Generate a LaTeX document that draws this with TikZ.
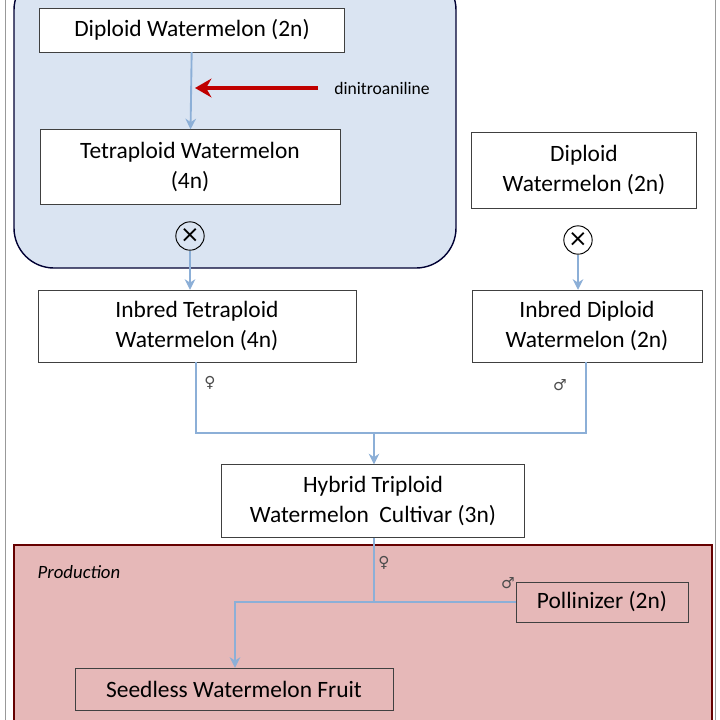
\documentclass[tikz,border=0pt]{standalone}
\usepackage{fontspec}
\setmainfont{Carlito}
\newfontfamily\symfont{DejaVu Sans}
\usetikzlibrary{arrows.meta,positioning}
\definecolor{flowblue}{RGB}{140,175,215}
\definecolor{regionblue}{RGB}{218,228,242}
\definecolor{regionred}{RGB}{230,184,184}
\definecolor{arrowred}{RGB}{192,0,0}
\tikzset{
  stage/.style={draw=black!75,fill=white,align=center,inner sep=0pt,font=\fontsize{20}{26}\selectfont},
  flow/.style={draw=flowblue,line width=1.6pt},
  flowarrow/.style={flow,-{Stealth[length=9pt,width=9pt]}},
  cross/.style={circle,draw,line width=0.8pt,inner sep=0pt,minimum size=0.85cm,font=\symfont\fontsize{20}{20}\selectfont},
  sex/.style={font=\symfont\fontsize{13}{13}\selectfont,text=black!70}
}
\begin{document}
\begin{tikzpicture}[x=0.03cm,y=-0.03cm]
  \useasboundingbox (0,0) rectangle (720,720);
  \draw[black!40] (5,-5) rectangle (715,725);
  % breeding region
  \draw[fill=regionblue,draw=black!80!blue,line width=1.2pt,rounded corners=1.2cm] (14,-30) rectangle (456,268);
  % production region
  \draw[fill=regionred,draw=black!60!red,line width=1pt] (14,545) rectangle (712,730);
  \node[font=\itshape\fontsize{16}{16}\selectfont] (prod) at (79,572) {Production};

  \node[stage,minimum width=9.15cm,minimum height=1.32cm] (dip) at (192,30) {Diploid Watermelon (2n)};
  \node[stage,minimum width=9cm,minimum height=2.25cm] (tet) at (190,167) {Tetraploid Watermelon\\(4n)};
  \node[cross] (x1) at (190,236) {×};
  \node[stage,minimum width=6.75cm,minimum height=2.28cm] (dip2) at (584,170) {Diploid\\Watermelon (2n)};
  \node[cross] (x2) at (578,240) {×};
  \node[stage,minimum width=9.54cm,minimum height=2.16cm] (itet) at (197,326) {Inbred Tetraploid\\Watermelon (4n)};
  \node[stage,minimum width=6.9cm,minimum height=2.16cm] (idip) at (587,326) {Inbred Diploid\\Watermelon (2n)};
  \node[stage,minimum width=9.09cm,minimum height=2.19cm] (hyb) at (373,501) {Hybrid Triploid\\Watermelon\ \ Cultivar (3n)};
  \node[stage,fill=none,minimum width=5.16cm,minimum height=1.2cm] (poll) at (602,602) {Pollinizer (2n)};
  \node[stage,fill=none,minimum width=9.54cm,minimum height=1.26cm] (fruit) at (234,689) {Seedless Watermelon Fruit};

  \node[font=\fontsize{15}{15}\selectfont] (dini) at (382,88) {dinitroaniline};
  \coordinate (redtail) at (318,88);
  \coordinate (redhead) at (195,88);
  \draw[arrowred,line width=3.5pt,-{Stealth[length=14pt,width=16pt]}] (redtail) -- (redhead);

  \draw[flowarrow] (dip) -- (tet);
  \draw[flowarrow] (x1) -- (itet.north -| x1);
  \draw[flowarrow] (x2) -- (idip.north -| x2);

  % crossing lines
  \coordinate (jl) at (196,433);
  \coordinate (jr) at (586,433);
  \coordinate (jm) at (374,433);
  \draw[flow] (itet.south -| jl) -- (jl) -- (jr) -- (idip.south -| jr);
  \draw[flowarrow] (jm) -- (hyb.north -| jm);
  \node[sex] (f1) at (210,383) {♀};
  \node[sex] (m1) at (560,385) {♂};

  % production lines
  \coordinate (pj) at (374,602);
  \coordinate (pl) at (235,602);
  \draw[flow] (hyb.south -| pj) -- (pj);
  \draw[flowarrow] (poll.west) -- (pl) -- (fruit.north -| pl);
  \node[sex] (f2) at (384,563) {♀};
  \node[sex] (m2) at (508,583) {♂};
\end{tikzpicture}
\end{document}
